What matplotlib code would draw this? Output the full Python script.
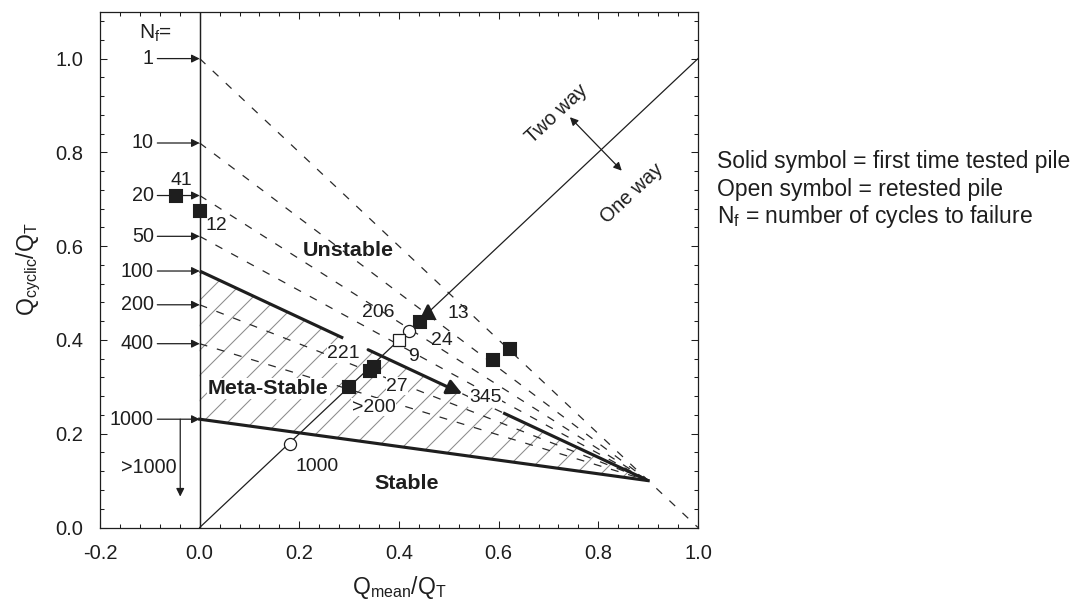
import numpy as np
import matplotlib
matplotlib.use("Agg")
import matplotlib.pyplot as plt
from matplotlib.ticker import AutoMinorLocator, FormatStrFormatter

plt.rcParams['font.family'] = 'Liberation Sans'
plt.rcParams['mathtext.fontset'] = 'custom'
plt.rcParams['mathtext.rm'] = 'Liberation Sans'
plt.rcParams['mathtext.it'] = 'Liberation Sans:italic'
plt.rcParams['mathtext.bf'] = 'Liberation Sans:bold'
plt.rcParams['axes.unicode_minus'] = False
plt.rcParams['hatch.linewidth'] = 0.5
plt.rcParams['lines.scale_dashes'] = False

INK = "#1e1e1e"

# N_f contours: value where each one meets Q_mean = 0, all run to the focus point
nf_labels = ["1", "10", "20", "50", "100", "200", "400", "1000"]
nf_start = [1.0, 0.82, 0.708, 0.621, 0.547, 0.475, 0.392, 0.231]
nf_end_x = [1.0, 0.9, 0.9, 0.9, 0.9, 0.9, 0.9, 0.9]
focus_x, focus_y = 0.9, 0.1

# test results
solid_sq_x = [-0.047, 0.0, 0.442, 0.349, 0.341, 0.299, 0.589, 0.622]
solid_sq_y = [0.708, 0.676, 0.438, 0.343, 0.334, 0.300, 0.358, 0.380]
solid_tri_x = [0.459]
solid_tri_y = [0.460]
open_circ_x = [0.420, 0.1815]
open_circ_y = [0.419, 0.179]
open_sq_x = [0.400]
open_sq_y = [0.399]

# cycles to failure written next to the tests
test_labels = ["41", "12", "206", "13", "24", "9", "221", "27", ">200", "345", "1000"]
test_label_x = [-0.036, 0.034, 0.359, 0.519, 0.486, 0.429, 0.289, 0.396, 0.349, 0.573, 0.235]
test_label_y = [0.740, 0.643, 0.4575, 0.456, 0.399, 0.365, 0.371, 0.301, 0.257, 0.277, 0.1295]
boxed = ["221", "27", ">200", "345"]


def contour(i, x):
    y0 = nf_start[i]
    return y0 + (focus_y - y0) * np.asarray(x) / focus_x


fig = plt.figure(figsize=(7.2, 4.0), dpi=150)
ax = fig.add_axes([0.0926, 0.1208, 0.5537, 0.8597])

# hatched meta-stable zone between N_f = 100 and N_f = 1000
xs = np.linspace(0, focus_x, 50)
i100, i1000 = nf_labels.index("100"), nf_labels.index("1000")
ax.fill_between(xs, contour(i1000, xs), contour(i100, xs), facecolor="none",
                edgecolor="#8c8c8c", hatch="//", linewidth=0, zorder=1)

# dashed contours
for i, lab in enumerate(nf_labels):
    if lab in ("100", "1000"):
        continue
    xx = np.array([0.0, nf_end_x[i]])
    ax.plot(xx, contour(i, xx), color="#2a2a2a", lw=0.6, dashes=(3.8, 4.8), zorder=2)

# N_f = 100 boundary: thick parts, an arrow, a dashed gap
for a, b in [(0.0, 0.288), (0.609, focus_x)]:
    xx = np.array([a, b])
    ax.plot(xx, contour(i100, xx), color=INK, lw=1.5, solid_capstyle="butt", zorder=3)
xx = np.array([0.527, 0.609])
ax.plot(xx, contour(i100, xx), color="#2a2a2a", lw=0.6, dashes=(3.8, 4.8), zorder=2)
ax.annotate("", xy=(0.527, float(contour(i100, 0.527))),
            xytext=(0.338, float(contour(i100, 0.338))),
            arrowprops=dict(arrowstyle="-|>", color=INK, lw=1.5, mutation_scale=15,
                            shrinkA=0, shrinkB=0), zorder=3)

# N_f = 1000 boundary
xx = np.array([0.0, focus_x])
ax.plot(xx, contour(i1000, xx), color=INK, lw=1.5, zorder=3)

# axis of symmetry and one-way / two-way line
ax.axvline(0.0, color=INK, lw=0.7, zorder=3)
ax.plot([0, 1], [0, 1], color=INK, lw=0.6, zorder=3)

# N_f arrows on the left
for i, lab in enumerate(nf_labels):
    y = nf_start[i]
    ax.annotate("", xy=(0.0, y), xytext=(-0.085, y),
                arrowprops=dict(arrowstyle="-|>", color=INK, lw=0.6, mutation_scale=8,
                                shrinkA=0, shrinkB=0))
    ax.text(-0.092, y, lab, ha="right", va="center", fontsize=9.5, color=INK)
ax.text(-0.089, 1.053, r"N$_{\rm f}$=", ha="center", va="center", fontsize=10, color=INK)

ax.annotate("", xy=(-0.039, 0.066), xytext=(-0.039, nf_start[i1000]),
            arrowprops=dict(arrowstyle="-|>", color=INK, lw=0.6, mutation_scale=8,
                            shrinkA=0, shrinkB=0))
ax.text(-0.103, 0.129, ">1000", ha="center", va="center", fontsize=9.5, color=INK)

# two way / one way
ax.annotate("", xy=(0.743, 0.875), xytext=(0.847, 0.761),
            arrowprops=dict(arrowstyle="<|-|>", color=INK, lw=0.6, mutation_scale=8,
                            shrinkA=0, shrinkB=0))
ax.text(0.716, 0.882, "Two way", rotation=43, rotation_mode="anchor",
        ha="center", va="center", fontsize=9.5, color=INK)
ax.text(0.867, 0.712, "One way", rotation=43, rotation_mode="anchor",
        ha="center", va="center", fontsize=9.5, color=INK)

# zones
ax.text(0.2985, 0.591, "Unstable", ha="center", va="center", fontsize=10.3,
        fontweight="bold", color=INK)
ax.text(0.138, 0.296, "Meta-Stable", ha="center", va="center", fontsize=10.3,
        fontweight="bold", color=INK, zorder=4,
        bbox=dict(facecolor="white", edgecolor="none", pad=0.5))
ax.text(0.4157, 0.094, "Stable", ha="center", va="center", fontsize=10.3,
        fontweight="bold", color=INK)

# markers
ax.plot(solid_sq_x, solid_sq_y, "s", ms=5.3, color=INK, zorder=6)
ax.plot(solid_tri_x, solid_tri_y, "^", ms=6.5, color=INK, zorder=6)
ax.plot(open_circ_x, open_circ_y, "o", ms=5.8, mfc="white", mec=INK, mew=0.6, zorder=6)
ax.plot(open_sq_x, open_sq_y, "s", ms=5.3, mfc="white", mec=INK, mew=0.6, zorder=6)

for lab, x, y in zip(test_labels, test_label_x, test_label_y):
    bb = dict(facecolor="white", edgecolor="none", pad=0.3) if lab in boxed else None
    ax.text(x, y, lab, ha="center", va="center", fontsize=9.3, color=INK, zorder=5, bbox=bb)

ax.set_xlim(-0.2, 1.0)
ax.set_ylim(0.0, 1.1)
ax.set_xticks(np.arange(-0.2, 1.01, 0.2))
ax.set_yticks(np.arange(0.0, 1.01, 0.2))
ax.xaxis.set_major_formatter(FormatStrFormatter("%.1f"))
ax.yaxis.set_major_formatter(FormatStrFormatter("%.1f"))
ax.xaxis.set_minor_locator(AutoMinorLocator(5))
ax.yaxis.set_minor_locator(AutoMinorLocator(5))
ax.tick_params(which="both", direction="in", top=True, right=True, color=INK,
               width=0.5, labelsize=9.7, labelcolor=INK, pad=8)
ax.tick_params(which="major", length=3.4)
ax.tick_params(which="minor", length=1.7)
for s in ax.spines.values():
    s.set_linewidth(0.6)
    s.set_color(INK)

ax.set_xlabel(r"Q$_{\rm mean}$/Q$_{\rm T}$", fontsize=11, color=INK, labelpad=5)
ax.set_ylabel(r"Q$_{\rm cyclic}$/Q$_{\rm T}$", fontsize=11, color=INK, labelpad=6)

# notes on the right
fig.text(717 / 1080, 0.7195, "Solid symbol = first time tested pile", fontsize=11, color=INK)
fig.text(717 / 1080, 0.6733, "Open symbol = retested pile", fontsize=11, color=INK)
fig.text(717 / 1080, 0.628, r"N$_{\rm f}$ = number of cycles to failure", fontsize=11, color=INK)

fig.savefig("out.png", dpi=150)
